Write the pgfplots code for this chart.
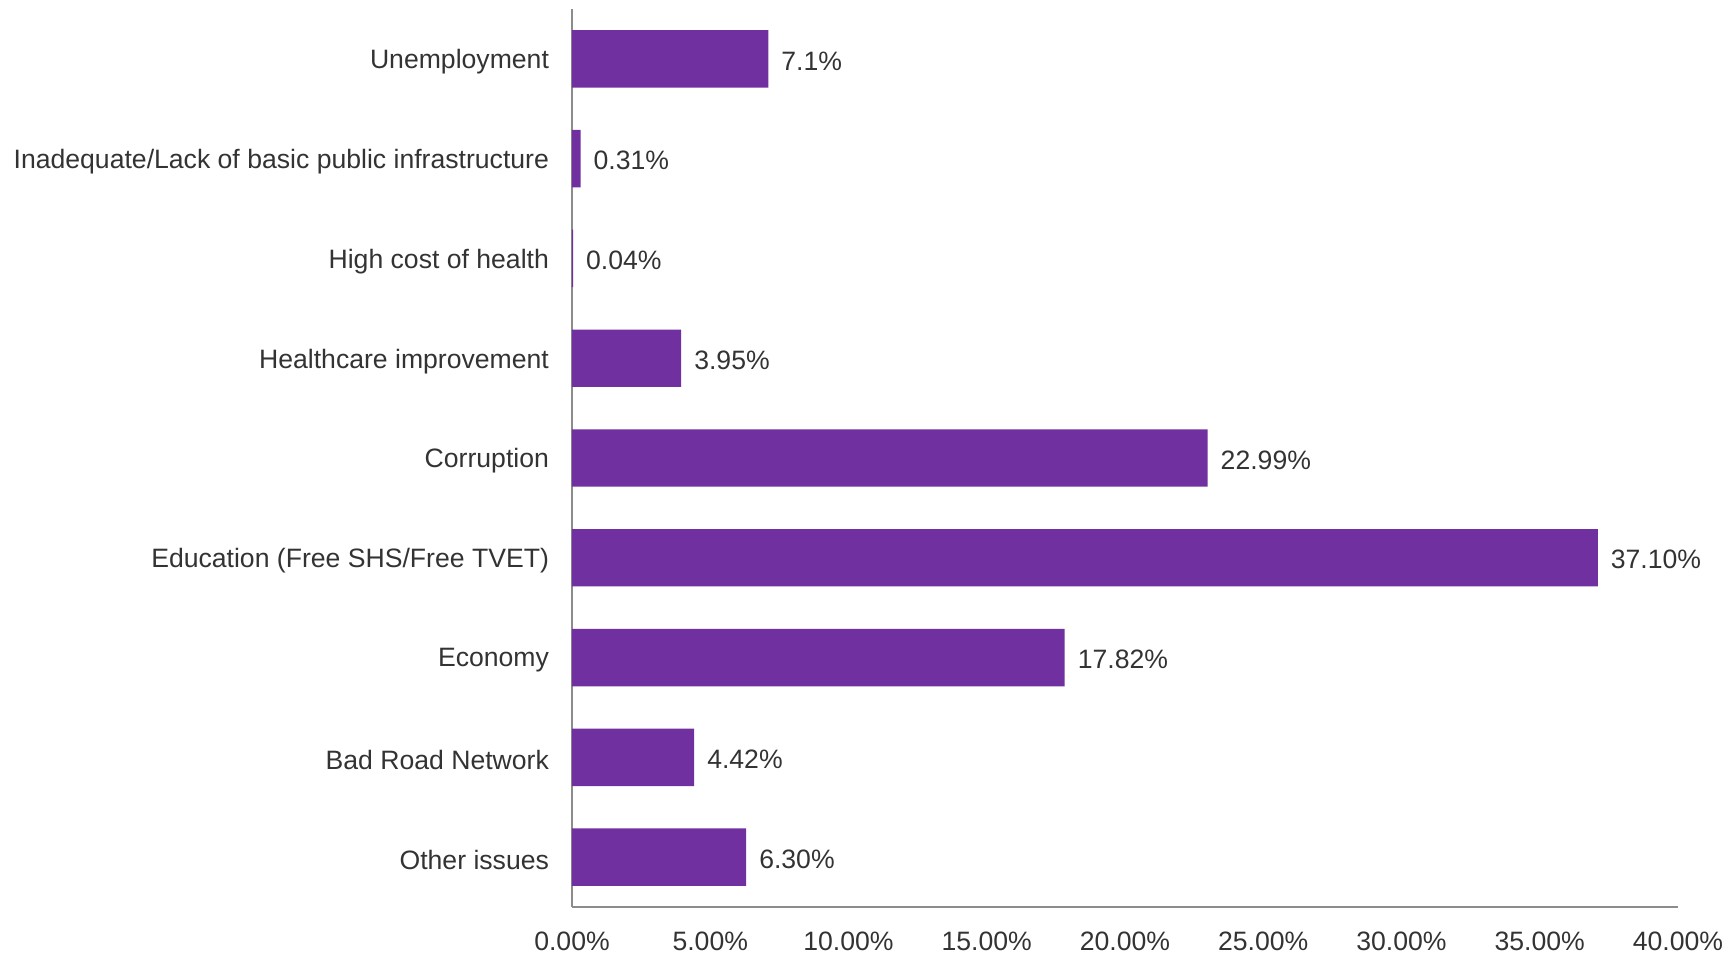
\documentclass[border=0pt]{standalone}
\usepackage{pgfplots}
\pgfplotsset{compat=1.18}
\usepackage{pgfplotstable}
\usepackage{fontspec}
\setmainfont{Liberation Sans}
\definecolor{barpurple}{HTML}{7030A0}
\definecolor{txt}{HTML}{333333}
\definecolor{axgray}{HTML}{8C8C8C}
\pgfplotstableread{
y x label
0 6.30 6.30\%
1 4.42 4.42\%
2 17.82 17.82\%
3 37.10 37.10\%
4 22.99 22.99\%
5 3.95 3.95\%
6 0.04 0.04\%
7 0.31 0.31\%
8 7.1 7.1\%
}\datatable
\begin{document}
\begin{tikzpicture}
\useasboundingbox (-286pt,-23pt) rectangle (578.5pt,453.5pt);
\begin{axis}[
  at={(0,0)}, anchor=south west,
  scale only axis,
  width=553pt, height=449pt,
  xbar, bar width=28.7pt,
  xmin=0, xmax=40, ymin=-0.5, ymax=8.5,
  axis x line*=bottom, axis y line*=left,
  axis line style={-, draw=axgray, line width=1pt},
  major tick length=0pt,
  xtick={0,5,10,15,20,25,30,35,40},
  xticklabels={0.00\%,5.00\%,10.00\%,15.00\%,20.00\%,25.00\%,30.00\%,35.00\%,40.00\%},
  ytick={0,...,8},
  yticklabels={Other issues,Bad Road Network,Economy,Education (Free SHS/Free TVET),Corruption,Healthcare improvement,High cost of health,Inadequate/Lack of basic public infrastructure,Unemployment},
  tick label style={font=\fontsize{13.3}{15}\selectfont, text=txt},
  xticklabel style={yshift=-9pt},
  yticklabel style={xshift=-8pt, yshift=-1.5pt},
  nodes near coords,
  point meta=explicit symbolic,
  nodes near coords style={anchor=west, xshift=3pt, yshift=-1pt, font=\fontsize{13.3}{15}\selectfont, text=txt},
  clip=false,
]
\addplot[fill=barpurple, draw=none] table[x=x, y=y, meta=label] {\datatable};
\end{axis}
\end{tikzpicture}
\end{document}
